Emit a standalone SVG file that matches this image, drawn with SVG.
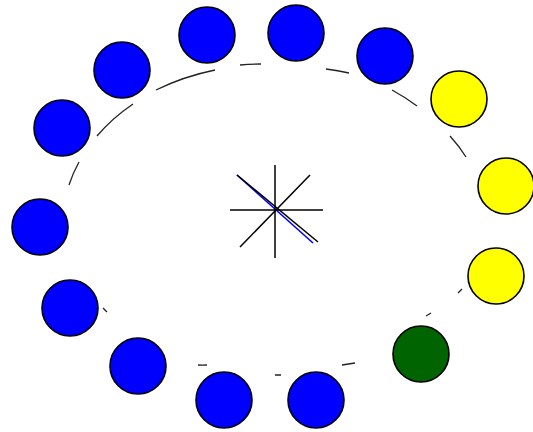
<svg xmlns="http://www.w3.org/2000/svg" width="533" height="432" viewBox="0 0 533 432">
<style>
.n{stroke:#000;stroke-width:1.6}
.b{fill:#0000ff}
.y{fill:#ffff00}
.g{fill:#006400}
.d{fill:none;stroke:#222;stroke-width:1.3}
.s{stroke:#000;stroke-width:1.5}
</style>
<rect width="533" height="432" fill="#fff"/>
<g id="connectors">
<path class="d" d="M69 185 A208 157 0 0 1 79 162"/>
<path class="d" d="M97 136 A208 157 0 0 1 133 104"/>
<path class="d" d="M156 90 A208 157 0 0 1 215 70"/>
<path class="d" d="M240 65 A208 157 0 0 1 261 64"/>
<path class="d" d="M326 69 A208 157 0 0 1 349 73"/>
<path class="d" d="M392 90 A208 157 0 0 1 417 106"/>
<path class="d" d="M450 136 A208 157 0 0 1 466 157"/>
<path class="d" d="M462 289 A208 157 0 0 1 458 293"/>
<path class="d" d="M431 313 A208 157 0 0 1 426 316"/>
<path class="d" d="M355 363 A208 157 0 0 1 342 365"/>
<path class="d" d="M281 375 A208 157 0 0 1 275 375"/>
<path class="d" d="M207 365 A208 157 0 0 1 198 365"/>
<path class="d" d="M107 312 A208 157 0 0 1 103 308"/>
</g>
<g id="center">
<line x1="237" y1="175" x2="313" y2="243" stroke="#0000ff" stroke-width="1.6"/>
<line class="s" x1="230" y1="210" x2="323" y2="210"/>
<line class="s" x1="275" y1="165" x2="275" y2="258"/>
<line class="s" x1="310" y1="175" x2="240" y2="247"/>
<line class="s" x1="237" y1="175" x2="318" y2="242"/>
</g>
<g id="n1"><circle class="n b" cx="207" cy="35" r="28"/></g>
<g id="n2"><circle class="n b" cx="296" cy="33" r="28"/></g>
<g id="n3"><circle class="n b" cx="385" cy="56" r="28"/></g>
<g id="n4"><circle class="n y" cx="459" cy="99" r="28"/></g>
<g id="n5"><circle class="n y" cx="506" cy="186" r="28"/></g>
<g id="n6"><circle class="n y" cx="496" cy="276" r="28"/></g>
<g id="n7"><circle class="n g" cx="421" cy="354" r="28"/></g>
<g id="n8"><circle class="n b" cx="316" cy="400" r="28"/></g>
<g id="n9"><circle class="n b" cx="224" cy="400" r="28"/></g>
<g id="n10"><circle class="n b" cx="138" cy="366" r="28"/></g>
<g id="n11"><circle class="n b" cx="70" cy="308" r="28"/></g>
<g id="n12"><circle class="n b" cx="40" cy="227" r="28"/></g>
<g id="n13"><circle class="n b" cx="62" cy="128" r="28"/></g>
<g id="n14"><circle class="n b" cx="122" cy="70" r="28"/></g>
</svg>
